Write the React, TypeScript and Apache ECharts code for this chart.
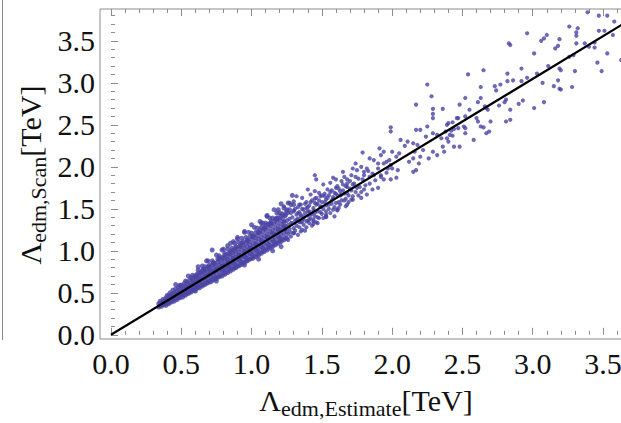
import { useEffect, useRef } from "react";
import * as echarts from "echarts";

// Axis ranges (data units) and tick values
const xRange = [-0.078, 3.77];
const yRange = [-0.05, 3.879];
const majorTicks = [0, 0.5, 1, 1.5, 2, 2.5, 3, 3.5];
const minorTicks = [
  0.1, 0.2, 0.3, 0.4, 0.6, 0.7, 0.8, 0.9, 1.1, 1.2, 1.3, 1.4, 1.6, 1.7, 1.8, 1.9,
  2.1, 2.2, 2.3, 2.4, 2.6, 2.7, 2.8, 2.9, 3.1, 3.2, 3.3, 3.4, 3.6, 3.7, 3.8,
];

// Reference line (estimate = scan)
const lineEstimate = [0, 3.8];
const lineScan = [0, 3.86];

// Dense band of scan points, Lambda_estimate vs Lambda_scan [TeV]
const coreBand: [number, number][] = [
  [0.34, 0.33], [0.34, 0.37], [0.35, 0.40], [0.35, 0.35],
  [0.36, 0.34], [0.36, 0.38], [0.37, 0.42], [0.37, 0.36], [0.37, 0.39],
  [0.38, 0.36], [0.38, 0.41], [0.39, 0.44], [0.39, 0.38], [0.39, 0.35],
  [0.40, 0.38], [0.40, 0.43], [0.41, 0.46], [0.41, 0.40], [0.41, 0.37], [0.40, 0.47],
  [0.42, 0.39], [0.42, 0.44], [0.43, 0.48], [0.43, 0.42], [0.43, 0.39], [0.42, 0.50],
  [0.44, 0.41], [0.44, 0.46], [0.45, 0.50], [0.45, 0.44], [0.45, 0.40], [0.44, 0.53],
  [0.46, 0.43], [0.46, 0.48], [0.47, 0.52], [0.47, 0.45], [0.47, 0.42], [0.46, 0.55],
  [0.48, 0.44], [0.48, 0.50], [0.49, 0.54], [0.49, 0.47], [0.49, 0.44], [0.48, 0.57], [0.49, 0.59],
  [0.50, 0.46], [0.50, 0.52], [0.51, 0.56], [0.51, 0.49], [0.51, 0.45], [0.50, 0.59],
  [0.52, 0.48], [0.52, 0.54], [0.53, 0.58], [0.53, 0.51], [0.53, 0.47], [0.52, 0.61], [0.53, 0.64],
  [0.54, 0.50], [0.54, 0.56], [0.55, 0.60], [0.55, 0.53], [0.55, 0.49], [0.54, 0.63],
  [0.56, 0.51], [0.56, 0.58], [0.57, 0.62], [0.57, 0.55], [0.57, 0.51], [0.56, 0.65], [0.57, 0.68],
  [0.58, 0.53], [0.58, 0.60], [0.59, 0.64], [0.59, 0.57], [0.59, 0.53], [0.58, 0.67],
  [0.60, 0.55], [0.60, 0.62], [0.61, 0.66], [0.61, 0.59], [0.61, 0.55], [0.60, 0.69], [0.61, 0.72],
  [0.62, 0.57], [0.62, 0.64], [0.63, 0.68], [0.63, 0.61], [0.63, 0.56], [0.62, 0.71],
  [0.64, 0.59], [0.64, 0.66], [0.65, 0.71], [0.65, 0.63], [0.65, 0.58], [0.64, 0.74], [0.65, 0.77],
  [0.66, 0.60], [0.66, 0.68], [0.67, 0.73], [0.67, 0.65], [0.67, 0.60], [0.66, 0.76],
  [0.68, 0.62], [0.68, 0.70], [0.69, 0.75], [0.69, 0.67], [0.69, 0.62], [0.68, 0.78], [0.69, 0.81],
  [0.70, 0.64], [0.70, 0.72], [0.71, 0.77], [0.71, 0.69], [0.71, 0.63], [0.70, 0.80], [0.71, 0.74],
  [0.72, 0.66], [0.72, 0.74], [0.73, 0.79], [0.73, 0.71], [0.73, 0.65], [0.72, 0.83], [0.73, 0.86],
  [0.74, 0.68], [0.74, 0.76], [0.75, 0.81], [0.75, 0.73], [0.75, 0.67], [0.74, 0.85], [0.75, 0.78],
  [0.76, 0.69], [0.76, 0.78], [0.77, 0.83], [0.77, 0.75], [0.77, 0.69], [0.76, 0.87], [0.77, 0.91],
  [0.78, 0.71], [0.78, 0.80], [0.79, 0.85], [0.79, 0.77], [0.79, 0.70], [0.78, 0.89], [0.79, 0.82],
  [0.80, 0.73], [0.80, 0.82], [0.81, 0.88], [0.81, 0.79], [0.81, 0.72], [0.80, 0.91], [0.81, 0.95], [0.80, 0.77],
  [0.82, 0.75], [0.82, 0.84], [0.83, 0.90], [0.83, 0.81], [0.83, 0.74], [0.82, 0.93], [0.83, 0.87],
  [0.84, 0.77], [0.84, 0.86], [0.85, 0.92], [0.85, 0.83], [0.85, 0.76], [0.84, 0.96], [0.85, 0.99], [0.84, 0.81],
  [0.86, 0.79], [0.86, 0.88], [0.87, 0.94], [0.87, 0.85], [0.87, 0.78], [0.86, 0.98], [0.87, 0.91],
  [0.88, 0.80], [0.88, 0.90], [0.89, 0.96], [0.89, 0.87], [0.89, 0.80], [0.88, 1.00], [0.89, 1.04], [0.88, 0.84],
  [0.90, 0.82], [0.90, 0.92], [0.91, 0.98], [0.91, 0.89], [0.91, 0.82], [0.90, 1.02], [0.91, 0.95],
  [0.92, 0.84], [0.92, 0.94], [0.93, 1.01], [0.93, 0.91], [0.93, 0.84], [0.92, 1.05], [0.93, 1.09], [0.92, 0.88],
  [0.94, 0.86], [0.94, 0.96], [0.95, 1.03], [0.95, 0.93], [0.95, 0.86], [0.94, 1.07], [0.95, 0.99],
  [0.96, 0.88], [0.96, 0.99], [0.97, 1.05], [0.97, 0.95], [0.97, 0.88], [0.96, 1.09], [0.97, 1.13], [0.96, 0.92],
  [0.98, 0.90], [0.98, 1.01], [0.99, 1.07], [0.99, 0.97], [0.99, 0.90], [0.98, 1.11], [0.99, 1.03],
  [1.00, 0.92], [1.00, 1.03], [1.01, 1.09], [1.01, 0.99], [1.01, 0.91], [1.00, 1.14], [1.01, 1.18], [1.00, 0.96],
  [1.02, 0.94], [1.02, 1.05], [1.03, 1.12], [1.03, 1.01], [1.03, 0.93], [1.02, 1.16], [1.03, 1.08],
  [1.04, 0.96], [1.04, 1.07], [1.05, 1.14], [1.05, 1.03], [1.05, 0.95], [1.04, 1.18], [1.05, 1.22], [1.04, 1.00],
  [1.06, 0.98], [1.06, 1.09], [1.07, 1.16], [1.07, 1.05], [1.07, 0.97], [1.06, 1.21], [1.07, 1.12], [1.06, 1.25],
  [1.08, 1.00], [1.08, 1.11], [1.09, 1.18], [1.09, 1.07], [1.09, 0.99], [1.08, 1.23], [1.09, 1.27], [1.08, 1.03],
  [1.10, 1.02], [1.10, 1.14], [1.11, 1.20], [1.11, 1.09], [1.11, 1.01], [1.10, 1.25], [1.11, 1.16], [1.10, 1.30],
  [1.12, 1.04], [1.12, 1.16], [1.13, 1.23], [1.13, 1.11], [1.13, 1.03], [1.12, 1.28], [1.13, 1.32], [1.12, 1.07],
  [1.14, 1.06], [1.14, 1.18], [1.15, 1.25], [1.15, 1.13], [1.15, 1.05], [1.14, 1.30], [1.15, 1.21], [1.14, 1.35],
  [1.16, 1.08], [1.16, 1.20], [1.17, 1.27], [1.17, 1.15], [1.17, 1.07], [1.16, 1.32], [1.17, 1.37], [1.16, 1.11],
  [1.18, 1.10], [1.18, 1.22], [1.19, 1.29], [1.19, 1.17], [1.19, 1.09], [1.18, 1.34], [1.19, 1.25], [1.18, 1.39],
  [1.20, 1.12], [1.20, 1.25], [1.21, 1.32], [1.21, 1.19], [1.21, 1.11], [1.20, 1.37], [1.21, 1.42], [1.20, 1.15],
  [1.22, 1.14], [1.22, 1.27], [1.23, 1.34], [1.23, 1.21], [1.23, 1.13], [1.22, 1.39], [1.23, 1.29],
  [1.24, 1.16], [1.24, 1.29], [1.25, 1.36], [1.25, 1.23], [1.25, 1.15], [1.24, 1.42], [1.25, 1.47],
  [0.62, 0.81], [0.72, 1.01], [0.79, 1.01], [0.87, 1.11], [1.00, 1.31], [1.07, 1.33], [1.11, 1.41],
  [1.19, 1.49], [0.95, 1.22], [0.68, 0.88], [0.55, 0.70], [0.46, 0.60], [0.90, 1.14], [0.83, 1.06],
  [1.21, 1.05], [1.15, 1.00], [1.05, 0.90], [0.95, 0.83], [0.75, 0.64], [0.60, 0.52],
];

// Upper side of the dense band (scan above estimate)
const coreUpper: [number, number][] = [
  [0.58, 0.71], [0.60, 0.70], [0.62, 0.77], [0.63, 0.74], [0.65, 0.82], [0.66, 0.78], [0.67, 0.81],
  [0.69, 0.88], [0.70, 0.83], [0.72, 0.88], [0.73, 0.85], [0.75, 0.95], [0.76, 0.90], [0.77, 0.94],
  [0.79, 0.92], [0.80, 1.02], [0.81, 0.97], [0.83, 1.02], [0.84, 0.97], [0.85, 1.09], [0.86, 1.03],
  [0.87, 1.01], [0.88, 1.09], [0.89, 1.05], [0.90, 1.16], [0.91, 1.10], [0.92, 1.06], [0.93, 1.15],
  [0.94, 1.11], [0.95, 1.23], [0.96, 1.16], [0.97, 1.12], [0.98, 1.22], [0.99, 1.17], [1.00, 1.21],
  [1.01, 1.17], [1.02, 1.28], [1.03, 1.22], [1.04, 1.27], [1.05, 1.22], [1.06, 1.35], [1.07, 1.28],
  [1.08, 1.33], [1.09, 1.27], [1.10, 1.33], [1.11, 1.42], [1.12, 1.32], [1.13, 1.39], [1.14, 1.33],
  [1.15, 1.39], [1.16, 1.49], [1.17, 1.38], [1.18, 1.45], [1.19, 1.39], [1.20, 1.45], [1.21, 1.56],
  [1.22, 1.44], [1.23, 1.51], [1.24, 1.43], [1.25, 1.49], [1.26, 1.57], [1.27, 1.49], [1.28, 1.55],
  [1.29, 1.66], [1.30, 1.55],
];

// Intermediate region, moderately dense
const midBand: [number, number][] = [
  [1.26, 1.20], [1.26, 1.31], [1.27, 1.38], [1.27, 1.26], [1.28, 1.45], [1.28, 1.22], [1.29, 1.33],
  [1.29, 1.40], [1.30, 1.27], [1.30, 1.48], [1.31, 1.36], [1.31, 1.24], [1.32, 1.43], [1.32, 1.30],
  [1.33, 1.52], [1.33, 1.38], [1.34, 1.28], [1.34, 1.46], [1.35, 1.34], [1.35, 1.41], [1.36, 1.25],
  [1.36, 1.50], [1.37, 1.38], [1.37, 1.31], [1.38, 1.45], [1.38, 1.56], [1.39, 1.35], [1.39, 1.28],
  [1.40, 1.42], [1.40, 1.52], [1.41, 1.33], [1.41, 1.47], [1.42, 1.39], [1.42, 1.58], [1.43, 1.30],
  [1.43, 1.44], [1.44, 1.51], [1.44, 1.37], [1.45, 1.62], [1.45, 1.41], [1.46, 1.34], [1.46, 1.55],
  [1.47, 1.47], [1.48, 1.39], [1.48, 1.60], [1.49, 1.52], [1.50, 1.44], [1.50, 1.66],
  [1.26, 1.13], [1.28, 1.17], [1.33, 1.19], [1.38, 1.24], [1.30, 1.21],
  [1.31, 1.50], [1.33, 1.45], [1.35, 1.55], [1.37, 1.49], [1.39, 1.58], [1.41, 1.54], [1.43, 1.60],
  [1.44, 1.48], [1.46, 1.63], [1.47, 1.56], [1.49, 1.65], [1.50, 1.58], [1.52, 1.68], [1.53, 1.61],
  [1.55, 1.66], [1.57, 1.72], [1.58, 1.64], [1.60, 1.68], [1.62, 1.74], [1.63, 1.66], [1.65, 1.72],
  [1.68, 1.80], [1.70, 1.74], [1.34, 1.34], [1.37, 1.41], [1.40, 1.36], [1.42, 1.44], [1.44, 1.32],
  [1.47, 1.40], [1.49, 1.46], [1.51, 1.50], [1.53, 1.54], [1.56, 1.45], [1.57, 1.60], [1.60, 1.57],
  [1.61, 1.49], [1.63, 1.55], [1.66, 1.60], [1.69, 1.58], [1.72, 1.61], [1.76, 1.66], [1.53, 1.41],
  [1.68, 1.55], [1.44, 1.35], [1.53, 1.40], [1.61, 1.48],
  [1.52, 1.58], [1.53, 1.47], [1.54, 1.63], [1.55, 1.50], [1.56, 1.70], [1.57, 1.56], [1.58, 1.62],
  [1.59, 1.52], [1.60, 1.75], [1.61, 1.66], [1.62, 1.58], [1.63, 1.71], [1.64, 1.60], [1.65, 1.79],
  [1.66, 1.68], [1.67, 1.62], [1.68, 1.76], [1.69, 1.66], [1.70, 1.83], [1.71, 1.72], [1.72, 1.65],
  [1.73, 1.80], [1.74, 1.70], [1.76, 1.86], [1.77, 1.76], [1.78, 1.70], [1.80, 1.90], [1.81, 1.78],
  [1.83, 1.95], [1.84, 1.80], [1.86, 1.92], [1.88, 1.84], [1.90, 1.98], [1.92, 1.90], [1.94, 2.04],
  [1.96, 1.93], [1.98, 2.08], [2.00, 1.98],
  [2.25, 2.98], [2.28, 2.84], [2.17, 2.74], [2.29, 2.69], [2.36, 2.69], [2.29, 2.63], [2.29, 2.58],
  [2.47, 2.58], [2.39, 2.50], [2.43, 2.53], [1.99, 2.47], [1.99, 2.42], [2.17, 2.44], [2.20, 2.44],
  [2.25, 2.48], [2.29, 2.40], [2.32, 2.38], [2.24, 2.36], [2.35, 2.34], [2.39, 2.34], [2.43, 2.37],
  [2.44, 2.24], [2.36, 2.24], [2.37, 2.18], [2.32, 2.14], [2.26, 2.10], [2.29, 2.18], [2.06, 2.32],
  [2.11, 2.30], [2.15, 2.28], [2.09, 2.25], [2.18, 2.26], [2.22, 2.20], [2.16, 2.18], [2.20, 2.12],
  [2.15, 2.10], [2.19, 2.04], [2.12, 2.06], [2.17, 1.96], [2.15, 1.94], [2.05, 2.16], [2.03, 2.12],
  [2.00, 2.18], [1.94, 2.18], [1.92, 2.14], [1.91, 2.22], [1.79, 2.17], [1.84, 2.10], [1.87, 2.08],
  [1.90, 2.04], [1.96, 2.06], [1.99, 2.02], [1.97, 1.98], [2.04, 1.96], [2.03, 1.87], [1.99, 1.85],
  [1.92, 1.88], [1.87, 1.90], [1.94, 1.85], [1.82, 1.98], [1.78, 2.00], [1.74, 2.04], [1.72, 1.98],
  [1.75, 1.96], [1.80, 1.94], [1.84, 1.88], [1.79, 1.85], [1.74, 1.88], [1.71, 1.90], [1.66, 1.88],
  [1.65, 1.94], [1.68, 1.85], [1.64, 1.83], [1.60, 1.85], [1.58, 1.87], [1.56, 1.81], [1.61, 1.77],
  [1.67, 1.77], [1.72, 1.79], [1.75, 1.75], [1.80, 1.73], [1.86, 1.73], [1.90, 1.75], [1.82, 1.67],
  [1.78, 1.63], [1.71, 1.61], [1.68, 1.69], [1.64, 1.67], [1.59, 1.69], [1.54, 1.73], [1.51, 1.79],
  [1.45, 1.90], [1.46, 1.85], [1.52, 1.65], [1.48, 1.69], [1.45, 1.71], [1.42, 1.67], [1.40, 1.73],
  [1.36, 1.63], [1.32, 1.65], [1.30, 1.59], [1.27, 1.57], [1.23, 1.53], [1.34, 1.55], [1.39, 1.51],
  [1.45, 1.57], [1.49, 1.53], [1.55, 1.55], [1.58, 1.49], [1.62, 1.51], [1.67, 1.53], [1.53, 1.43],
  [1.59, 1.41], [1.51, 1.39], [1.45, 1.45], [1.40, 1.47], [1.35, 1.43], [1.30, 1.47], [1.26, 1.45],
  [1.41, 1.37], [1.36, 1.35], [1.32, 1.37], [1.28, 1.33], [1.23, 1.35], [1.47, 1.33], [1.35, 1.23],
  [1.30, 1.21], [1.24, 1.25],
];

// Sparse upper tail
const upperTail: [number, number][] = [
  [3.39, 3.84], [3.47, 3.80], [3.53, 3.80], [3.58, 3.73], [3.26, 3.67], [3.32, 3.65], [3.31, 3.60],
  [3.31, 3.56], [3.47, 3.62], [3.51, 3.62], [3.57, 3.57], [2.96, 3.59], [3.10, 3.57], [3.08, 3.53],
  [3.06, 3.50], [3.19, 3.52], [3.18, 3.44], [3.16, 3.41], [3.31, 3.47], [3.37, 3.47], [3.40, 3.43],
  [3.44, 3.48], [3.44, 3.42], [2.83, 3.47], [2.84, 3.45], [3.01, 3.35], [3.26, 3.31], [3.29, 3.33],
  [3.53, 3.35], [3.63, 3.27], [3.46, 3.24], [3.11, 3.20], [3.19, 3.17], [3.20, 3.15], [3.30, 3.14],
  [3.49, 3.14], [2.65, 3.15], [2.54, 3.10], [2.82, 3.11], [2.92, 3.17], [3.03, 3.11], [2.96, 3.06],
  [2.92, 3.02], [2.86, 3.03], [2.82, 3.02], [3.07, 3.00], [3.18, 3.03], [3.15, 2.96], [3.19, 2.93],
  [3.20, 2.92], [3.28, 2.95], [2.63, 2.95], [2.73, 2.96], [2.74, 2.91], [2.77, 2.98], [2.52, 2.82],
  [2.63, 2.82], [2.81, 2.80], [2.80, 2.77], [2.93, 2.79], [2.90, 2.75], [2.76, 2.73], [2.68, 2.68],
  [2.66, 2.72], [2.67, 2.70], [2.84, 2.68], [3.01, 2.70], [3.08, 2.77], [2.48, 2.74], [2.61, 2.77],
  [2.55, 2.68], [2.40, 2.52], [2.46, 2.58], [2.52, 2.60], [2.60, 2.58], [2.61, 2.54],
  [2.70, 2.54], [2.63, 2.48], [2.65, 2.47], [2.81, 2.54], [2.84, 2.56], [2.51, 2.48], [2.52, 2.46],
  [2.47, 2.46], [2.44, 2.45], [2.42, 2.43], [2.38, 2.42], [2.67, 2.40], [2.69, 2.42], [2.58, 2.32],
  [2.40, 2.30], [2.48, 2.24], [2.52, 2.40], [2.41, 2.38],
];

const serif = "'Liberation Serif', 'Times New Roman', Times, serif";
const frameColor = "#8c8c8c";
const dotColor = "#4a44a4";

function majorAxis(position: string, range: number[], showLabel: boolean, isY: boolean) {
  return {
    type: "value",
    position,
    min: range[0],
    max: range[1],
    axisLine: { show: false },
    splitLine: { show: false },
    axisTick: {
      show: true,
      inside: true,
      length: 7,
      customValues: majorTicks,
      lineStyle: { color: frameColor, width: 1 },
    },
    axisLabel: {
      show: showLabel,
      customValues: majorTicks,
      formatter: (v: number) => v.toFixed(1),
      margin: isY ? 5 : 9,
      fontSize: 30,
      fontFamily: serif,
      color: "#111",
    },
  };
}

function minorAxis(position: string, range: number[]) {
  return {
    type: "value",
    position,
    min: range[0],
    max: range[1],
    axisLine: { show: false },
    splitLine: { show: false },
    axisTick: {
      show: true,
      inside: true,
      length: 4,
      customValues: minorTicks,
      lineStyle: { color: frameColor, width: 1 },
    },
    axisLabel: { show: false },
  };
}

export default function App() {
  const ref = useRef<HTMLDivElement>(null);
  useEffect(() => {
    if (!ref.current) return;
    const chart = echarts.init(ref.current, null, { renderer: "svg" });
    const subRich = (main: number, sub: number) => ({
      a: { fontSize: main, fontFamily: serif, fill: "#111", verticalAlign: "bottom", padding: [0, 0, 4, 0] },
      b: { fontSize: sub, fontFamily: serif, fill: "#111", verticalAlign: "bottom" },
    });
    chart.setOption({
      animation: false,
      backgroundColor: "#ffffff",
      grid: {
        left: 100,
        top: 9,
        right: -20,
        bottom: 84,
        show: true,
        borderColor: frameColor,
        borderWidth: 1,
        backgroundColor: "transparent",
        containLabel: false,
        outerBoundsMode: "none",
      },
      xAxis: [
        majorAxis("bottom", xRange, true, false),
        minorAxis("bottom", xRange),
        majorAxis("top", xRange, false, false),
        minorAxis("top", xRange),
      ],
      yAxis: [majorAxis("left", yRange, true, true), minorAxis("left", yRange)],
      series: [
        {
          type: "scatter",
          xAxisIndex: 0,
          yAxisIndex: 0,
          data: [...coreBand, ...coreUpper],
          symbolSize: 5,
          itemStyle: { color: dotColor },
          silent: true,
        },
        {
          type: "scatter",
          xAxisIndex: 0,
          yAxisIndex: 0,
          data: [...midBand, ...upperTail],
          symbolSize: 4.2,
          itemStyle: { color: dotColor },
          silent: true,
        },
        {
          type: "line",
          xAxisIndex: 0,
          yAxisIndex: 0,
          data: lineEstimate.map((x, i) => [x, lineScan[i]]),
          symbol: "none",
          lineStyle: { color: "#000", width: 2.2 },
          silent: true,
          clip: true,
        },
      ],
      graphic: [
        {
          type: "line",
          shape: { x1: 2.5, y1: 0, x2: 2.5, y2: 340 },
          style: { stroke: "#888", lineWidth: 1 },
          silent: true,
        },
        {
          type: "text",
          x: 366,
          y: 402,
          style: {
            text: "{a|Λ}{b|edm,Estimate}{a|[TeV]}",
            rich: subRich(30, 22),
            align: "center",
            verticalAlign: "middle",
          },
          silent: true,
        },
        {
          type: "text",
          x: 32,
          y: 175,
          rotation: Math.PI / 2,
          style: {
            text: "{a|Λ}{b|edm,Scan}{a|[TeV]}",
            rich: subRich(30, 22),
            align: "center",
            verticalAlign: "middle",
          },
          silent: true,
        },
      ],
    });
    return () => chart.dispose();
  }, []);
  return (
    <div
      ref={ref}
      style={{ position: "fixed", left: 0, top: 0, width: 621, height: 423, background: "#fff" }}
    />
  );
}
